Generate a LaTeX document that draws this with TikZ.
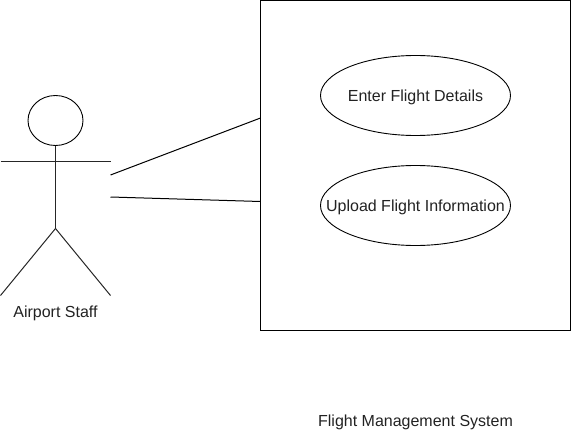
\documentclass[tikz,border=0pt]{standalone}
\usepackage{fontspec}
\setmainfont{Liberation Sans}
\usetikzlibrary{shapes.geometric}
\definecolor{labelgray}{HTML}{222222}
\newcommand{\uclabel}[1]{\makebox[0pt]{\raisebox{-6pt}[0pt][0pt]{#1}}}
\tikzset{
  usecase/.style={ellipse,draw,line width=0.9pt,outer sep=0pt,minimum width=190pt,minimum height=80pt,inner sep=0pt,text=labelgray,font=\fontsize{16}{18}\selectfont},
  caption/.style={text=labelgray,inner sep=0pt,font=\fontsize{16}{18}\selectfont},
  stick/.style={line width=1pt,draw=black!85},
  assoc/.style={line width=1pt}
}
\begin{document}
\begin{tikzpicture}[x=1pt,y=-1pt]
\useasboundingbox (0,0) rectangle (571,436);
\draw (260.5,0.5) node[rectangle,draw,line width=1.2pt,outer sep=0pt,minimum width=310pt,minimum height=330pt,inner sep=0pt,anchor=north west] (system) {};
\draw (415.5,95.5) node[usecase] (enter) {\uclabel{Enter Flight Details}};
\draw (415.5,205.5) node[usecase] (upload) {\uclabel{Upload Flight Information}};
\draw (55.5,120.5) node[ellipse,draw,line width=0.9pt,outer sep=0pt,minimum width=55pt,minimum height=50pt,inner sep=0pt] (head) {};
\draw (55.5,313) node[caption] (staff) {Airport Staff};
\draw (415.5,422.5) node[caption] (sysname) {Flight Management System};
\coordinate (hip) at (55.5,228.5);
\coordinate (handl) at (0.5,161.5);
\coordinate (handr) at (110.5,161.5);
\coordinate (footl) at (0.5,295.5);
\coordinate (footr) at (110.5,295.5);
\coordinate (assoca) at (110.5,175);
\coordinate (assocb) at (110.5,197);
\coordinate (sysa) at (260.5,118);
\coordinate (sysb) at (260.5,201.5);
\path[-] (head) edge [stick] (hip);
\path[-] (handl) edge [stick] (handr);
\path[-] (hip) edge [stick] (footl);
\path[-] (hip) edge [stick] (footr);
\path[-] (assoca) edge [assoc] (sysa);
\path[-] (assocb) edge [assoc] (sysb);
\end{tikzpicture}
\end{document}
